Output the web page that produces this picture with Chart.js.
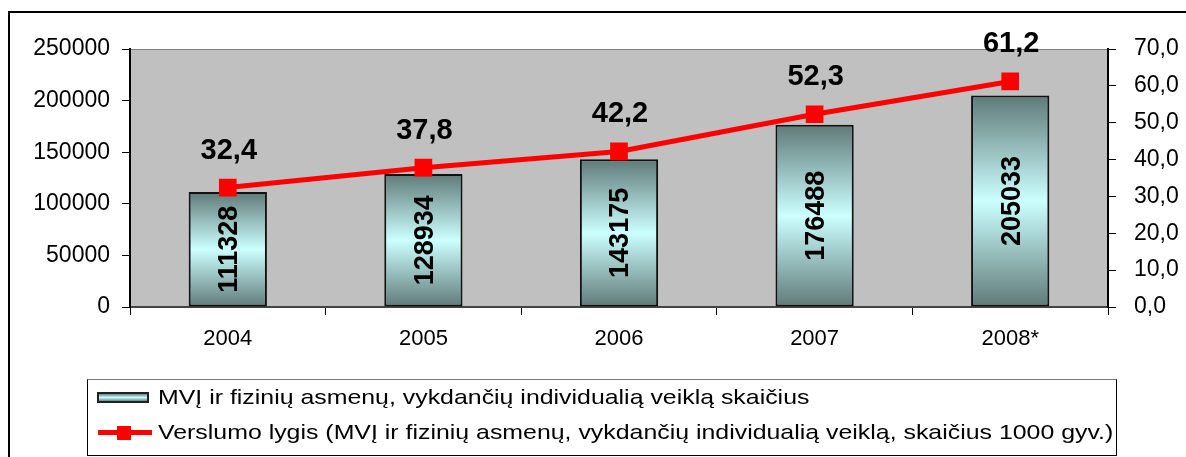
<!DOCTYPE html>
<html>
<head>
<meta charset="utf-8">
<script src="https://cdn.jsdelivr.net/npm/chart.js@4/dist/chart.umd.min.js"></script>
<style>
  html, body { margin: 0; padding: 0; background: #fff; overflow: hidden; }
  #wrap { position: relative; width: 1186px; height: 457px; }
  #frame { position: absolute; left: 8px; top: 11px; width: 1200px; height: 500px; border: 2px solid #000; box-sizing: border-box; }
  #legend { position: absolute; left: 87px; top: 379px; width: 1030px; height: 77px; border: 1px solid #000; border-top-color: #777; box-sizing: border-box; font-family: "Liberation Sans", Arial, sans-serif; font-size: 21px; color: #000; }
  .row { position: absolute; left: 8px; height: 30px; line-height: 30px; white-space: nowrap; }
  .row span { position: absolute; left: 62px; top: 0; transform: scaleX(1.185); transform-origin: 0 50%; }
  .ico-bar { position: absolute; left: 1px; top: 10px; width: 52px; height: 11px; border: 2px solid #222; box-sizing: border-box; background: linear-gradient(#6a8785, #c8ffff 50%, #6a8785); }
  .ico-line { position: absolute; left: 2px; top: 13px; width: 54px; height: 5px; background: #f00; }
  .ico-mark { position: absolute; left: 21px; top: 9px; width: 14px; height: 14px; background: #f00; }
</style>
</head>
<body>
<div id="wrap">
  <canvas id="c" width="1186" height="457"></canvas>
  <div id="frame"></div>
  <div id="legend">
    <div class="row" style="top:2px"><div class="ico-bar"></div><span>MVĮ ir fizinių asmenų, vykdančių individualią veiklą skaičius</span></div>
    <div class="row" style="top:37px"><div class="ico-line"></div><div class="ico-mark"></div><span>Verslumo lygis (MVĮ ir fizinių asmenų, vykdančių individualią veiklą, skaičius 1000 gyv.)</span></div>
  </div>
</div>
<script>
var years = ['2004', '2005', '2006', '2007', '2008*'];
var counts = [111328, 128934, 143175, 176488, 205033];
var rate = [32.4, 37.8, 42.2, 52.3, 61.2];
var leftTicks = [0, 50000, 100000, 150000, 200000, 250000];
var rightTicks = [0, 10, 20, 30, 40, 50, 60, 70];

var FONT = '"Liberation Sans", Arial, sans-serif';

function barGradient(ctx) {
  var chart = ctx.chart;
  var y = chart.scales.y;
  if (!y || ctx.dataIndex === undefined) return '#9cc';
  var top = y.getPixelForValue(counts[ctx.dataIndex]);
  var base = y.getPixelForValue(0);
  if (!isFinite(top) || !isFinite(base) || top === base) return '#9cc';
  var g = chart.ctx.createLinearGradient(0, top, 0, base);
  g.addColorStop(0, '#5f7a78');
  g.addColorStop(0.5, '#ccffff');
  g.addColorStop(1, '#5f7a78');
  return g;
}

var plotBg = {
  id: 'plotBg',
  beforeDraw: function (chart) {
    var a = chart.chartArea, c = chart.ctx;
    c.save();
    c.fillStyle = '#c0c0c0';
    c.fillRect(a.left, a.top, a.right - a.left, a.bottom - a.top);
    c.strokeStyle = '#808080';
    c.lineWidth = 1;
    c.beginPath();
    c.moveTo(a.left, a.top + 0.5);
    c.lineTo(a.right, a.top + 0.5);
    c.stroke();
    c.restore();
  }
};

var labels = {
  id: 'labels',
  afterDatasetsDraw: function (chart) {
    var c = chart.ctx;
    c.save();
    // bar values, rotated
    var bars = chart.getDatasetMeta(1).data;
    c.font = 'bold 27px ' + FONT;
    c.fillStyle = '#000';
    c.textAlign = 'center';
    c.textBaseline = 'middle';
    bars.forEach(function (el, i) {
      c.save();
      c.translate(el.x + 1, (el.y + el.base) / 2);
      c.rotate(-Math.PI / 2);
      c.fillText(String(counts[i]), 0, 1);
      c.restore();
    });
    // line values
    var pts = chart.getDatasetMeta(0).data;
    c.font = 'bold 29px ' + FONT;
    pts.forEach(function (p, i) {
      c.fillText(rate[i].toFixed(1).replace('.', ','), p.x + 1, p.y - 37);
    });
    c.restore();
  }
};

new Chart(document.getElementById('c'), {
  data: {
    labels: years,
    datasets: [{
      type: 'line',
      label: 'Verslumo lygis (MVĮ ir fizinių asmenų, vykdančių individualią veiklą, skaičius 1000 gyv.)',
      data: rate,
      yAxisID: 'y1',
      borderColor: '#ff0000',
      borderWidth: 5,
      pointStyle: 'rect',
      pointRadius: 12.5,
      pointBackgroundColor: '#ff0000',
      pointBorderWidth: 0,
      tension: 0,
      order: 0
    }, {
      type: 'bar',
      label: 'MVĮ ir fizinių asmenų, vykdančių individualią veiklą skaičius',
      data: counts,
      yAxisID: 'y',
      backgroundColor: barGradient,
      borderColor: '#111',
      borderWidth: 2,
      borderSkipped: false,
      categoryPercentage: 1,
      barPercentage: 0.4,
      order: 1
    }]
  },
  options: {
    responsive: false,
    animation: false,
    layout: { padding: { top: 49, left: 0, right: 0, bottom: 0 } },
    plugins: { legend: { display: false }, tooltip: { enabled: false } },
    scales: {
      x: {
        offset: true,
        grid: { offset: true, drawOnChartArea: false, tickLength: 8, tickColor: '#000', tickWidth: 1 },
        border: { color: '#444', width: 2 },
        ticks: { color: '#000', font: { family: FONT, size: 22 }, padding: 11, maxRotation: 0 },
        afterFit: function (s) { s.height = 150; }
      },
      y: {
        position: 'left',
        min: 0, max: 250000,
        afterBuildTicks: function (s) { s.ticks = leftTicks.map(function (v) { return { value: v }; }); },
        grid: { drawOnChartArea: false, tickLength: 8, tickColor: '#000' },
        border: { color: '#000', width: 2 },
        ticks: {
          color: '#000', font: { family: FONT, size: 23 }, padding: 12,
          callback: function (v) { return String(v); }
        },
        afterFit: function (s) { s.width = 130; }
      },
      y1: {
        position: 'right',
        min: 0, max: 70,
        afterBuildTicks: function (s) { s.ticks = rightTicks.map(function (v) { return { value: v }; }); },
        grid: { drawOnChartArea: false, tickLength: 8, tickColor: '#000' },
        border: { color: '#000', width: 2 },
        ticks: {
          color: '#000', font: { family: FONT, size: 23 }, padding: 18,
          callback: function (v) { return Number(v).toFixed(1).replace('.', ','); }
        },
        afterFit: function (s) { s.width = 78; }
      }
    }
  },
  plugins: [plotBg, labels]
});
</script>
</body>
</html>
